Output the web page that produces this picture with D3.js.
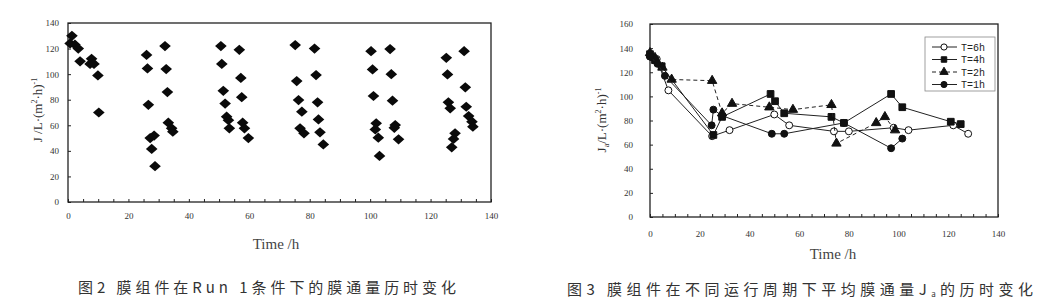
<!DOCTYPE html>
<html>
<head>
<meta charset="utf-8">
<script src="https://d3js.org/d3.v7.min.js"></script>
<style>
  body { margin: 0; background: #fff; }
  .tick text { font-family: "Liberation Serif", serif; font-size: 9px; fill: #333; }
  .tick line { stroke: #222; }
</style>
</head>
<body>
<svg id="chart" width="1053" height="302"></svg>
<script>
// ---- fig 2: flux of Run 1 over time ----
var run1Time = [1.3, 0.7, 2.3, 3.4, 4, 7.8, 7.3, 8.6, 9.9, 10.2,
  26, 26.3, 26.6, 27.2, 28.5, 27.7, 28.8,
  32.1, 32.5, 32.9, 33.2, 34.3, 34.7,
  50.6, 50.9, 51.4, 52, 52.5, 53.1, 53.4,
  56.7, 57.2, 57.5, 57.8, 58.4, 59.7,
  75.2, 75.7, 76.3, 77.4, 76.8, 78.1,
  81.6, 82.1, 82.6, 82.9, 83.4, 84.5,
  100.3, 100.8, 101.1, 102, 101.7, 102.7, 103.1,
  106.6, 107, 107.4, 108.3, 108, 109.4,
  125.2, 125.6, 125.9, 126.5, 128.1, 127.6, 127,
  131.1, 131.5, 131.8, 132.6, 133.7, 134];
var run1Flux = [130, 124, 123, 120, 110, 112, 108, 108, 99, 70,
  115, 104.5, 76, 50, 52, 41.5, 28,
  122, 104, 86, 62, 57.6, 55,
  122, 108, 87, 77, 66.7, 64, 57.6,
  119, 97, 82, 62, 57.6, 50,
  122.7, 94.6, 79.7, 70.6, 57.6, 53.7,
  120, 99.3, 78, 64.6, 54.5, 45,
  118, 103.7, 82.9, 61.5, 56.8, 50.3, 36,
  119.6, 100, 79.2, 60.2, 58, 49,
  112.8, 99.8, 78, 73.3, 53.7, 49.3, 42.8,
  118, 89.7, 74.5, 67.2, 62.8, 58.9];

// ---- fig 3: mean flux for different cycle periods ----
var t6Time = [0, 2.7, 7.4, 25, 32, 50, 56, 74, 80, 98, 104, 122, 128];
var t6Flux = [133, 131, 105, 67, 72, 85, 76, 71, 71, 74, 72, 76, 69];
var t4Time = [0, 2, 4.7, 25.5, 29, 48.5, 50.3, 54, 73, 78, 97, 101.5, 121, 125];
var t4Flux = [135, 130, 125, 68, 83, 102, 96, 86, 83, 78, 102, 91, 79, 77];
var t2Time = [0, 2, 5, 8.7, 25, 29, 33, 48, 57.5, 73, 75, 91, 94.5, 98.6];
var t2Flux = [136, 132, 124, 114, 113, 86, 94, 91, 89, 93, 61, 78, 83, 72];
var t1Time = [0, 3, 6, 24.8, 25.5, 29, 49, 54, 78, 97, 101.5];
var t1Flux = [133, 127, 117, 76, 89, 84, 69, 69, 78, 57, 65];

var xTicks = [0, 20, 40, 60, 80, 100, 120, 140];
var leftYTicks = [0, 20, 40, 60, 80, 100, 120, 140];
var rightYTicks = [0, 20, 40, 60, 80, 100, 120, 140, 160];
var legendNames = ['T=6h', 'T=4h', 'T=2h', 'T=1h'];

var svg = d3.select('#chart');

function zip(xs, ys) { return xs.map(function(d, i) { return [d, ys[i]]; }); }

function frame(x, y, yTicks, yPad, xPad) {
  var g = svg.append('g');
  g.append('g')
    .attr('transform', 'translate(0,' + y.range()[0] + ')')
    .call(d3.axisBottom(x).tickValues(d3.range(0, 141, 5)).tickSize(-3).tickPadding(xPad)
      .tickFormat(function(d) { return xTicks.indexOf(d) >= 0 ? d : ''; }))
    .call(function(a) { a.select('.domain').remove(); });
  g.append('g')
    .attr('transform', 'translate(' + x.range()[0] + ',0)')
    .call(d3.axisLeft(y).tickValues(yTicks).tickSize(-3).tickPadding(yPad))
    .call(function(a) { a.select('.domain').remove(); });
  g.append('rect')
    .attr('x', x.range()[0]).attr('y', y.range()[1])
    .attr('width', x.range()[1] - x.range()[0])
    .attr('height', y.range()[0] - y.range()[1])
    .attr('fill', 'none').attr('stroke', '#222').attr('stroke-width', 1.3);
}

// left chart
var x1 = d3.scaleLinear().domain([0, 140]).range([68, 491]);
var y1 = d3.scaleLinear().domain([0, 140]).range([202, 23]);
frame(x1, y1, leftYTicks, 9, 11);

// diamond = square turned 45 degrees, a bit flattened
var diamond = d3.symbol().type(d3.symbolSquare).size(58);
svg.append('g').selectAll('path')
  .data(zip(run1Time, run1Flux)).enter().append('path')
  .attr('d', diamond)
  .attr('transform', function(d) { return 'translate(' + x1(d[0]) + ',' + y1(d[1]) + ') scale(1.08,0.95) rotate(45)'; })
  .attr('fill', '#0a0a0a');

svg.append('text')
  .attr('transform', 'translate(42,110) rotate(-90)')
  .attr('text-anchor', 'middle')
  .style('font-family', '"Liberation Serif", serif').style('font-size', '13px').style('fill', '#333')
  .html('J /L·(m<tspan dy="-5" font-size="8">2</tspan><tspan dy="5">·h)</tspan><tspan dy="-5" font-size="8">-1</tspan>');
svg.append('text')
  .attr('x', 276).attr('y', 249)
  .attr('text-anchor', 'middle')
  .style('font-family', '"Liberation Serif", serif').style('font-size', '15px').style('fill', '#444')
  .text('Time /h');
svg.append('text')
  .attr('x', 267).attr('y', 293)
  .attr('text-anchor', 'middle')
  .attr('textLength', 378).attr('lengthAdjust', 'spacing')
  .style('font-family', '"Noto Sans CJK SC", sans-serif').style('font-size', '15px').style('fill', '#333')
  .text('图2 膜组件在Run  1条件下的膜通量历时变化');

// right chart
var x2 = d3.scaleLinear().domain([0, 140]).range([650, 998]);
var y2 = d3.scaleLinear().domain([0, 160]).range([217, 24]);
frame(x2, y2, rightYTicks, 17, 14);

var line = d3.line().x(function(d) { return x2(d[0]); }).y(function(d) { return y2(d[1]); });
var series = [
  { name: legendNames[0], pts: zip(t6Time, t6Flux), shape: d3.symbolCircle, fill: '#fff', dash: null },
  { name: legendNames[1], pts: zip(t4Time, t4Flux), shape: d3.symbolSquare, fill: '#111', dash: null },
  { name: legendNames[2], pts: zip(t2Time, t2Flux), shape: d3.symbolTriangle, fill: '#111', dash: '4,3' },
  { name: legendNames[3], pts: zip(t1Time, t1Flux), shape: d3.symbolCircle, fill: '#111', dash: null }
];

series.forEach(function(s) {
  svg.append('path')
    .attr('d', line(s.pts))
    .attr('fill', 'none').attr('stroke', '#222').attr('stroke-width', 1)
    .attr('stroke-dasharray', s.dash);
  svg.append('g').selectAll('path')
    .data(s.pts).enter().append('path')
    .attr('d', d3.symbol().type(s.shape).size(s.shape === d3.symbolSquare ? 45 : 38))
    .attr('transform', function(d) { return 'translate(' + x2(d[0]) + ',' + y2(d[1]) + ')'; })
    .attr('fill', s.fill).attr('stroke', '#111').attr('stroke-width', 1);
});

// legend
var legend = svg.append('g').attr('transform', 'translate(925,37)');
legend.append('rect')
  .attr('width', 70).attr('height', 54)
  .attr('fill', '#fff').attr('stroke', '#888').attr('stroke-width', 0.8);
series.forEach(function(s, i) {
  var yy = 10 + i * 12.5;
  legend.append('line')
    .attr('x1', 7).attr('x2', 32).attr('y1', yy).attr('y2', yy)
    .attr('stroke', '#222').attr('stroke-dasharray', s.dash);
  legend.append('path')
    .attr('d', d3.symbol().type(s.shape).size(30))
    .attr('transform', 'translate(19,' + yy + ')')
    .attr('fill', s.fill).attr('stroke', '#111');
  legend.append('text')
    .attr('x', 36).attr('y', yy + 3.5)
    .style('font-family', '"Liberation Mono", monospace').style('font-size', '10px').style('fill', '#222')
    .text(s.name);
});

svg.append('text')
  .attr('transform', 'translate(606,120) rotate(-90)')
  .attr('text-anchor', 'middle')
  .style('font-family', '"Liberation Serif", serif').style('font-size', '13px').style('fill', '#333')
  .html('J<tspan dy="3" font-size="8">a</tspan><tspan dy="-3">/L·(m</tspan><tspan dy="-5" font-size="8">2</tspan><tspan dy="5">·h)</tspan><tspan dy="-5" font-size="8">-1</tspan>');
svg.append('text')
  .attr('x', 833).attr('y', 259)
  .attr('text-anchor', 'middle')
  .style('font-family', '"Liberation Serif", serif').style('font-size', '15px').style('fill', '#444')
  .text('Time /h');
svg.append('text')
  .attr('x', 800).attr('y', 295)
  .attr('text-anchor', 'middle')
  .attr('textLength', 466).attr('lengthAdjust', 'spacing')
  .style('font-family', '"Noto Sans CJK SC", sans-serif').style('font-size', '15px').style('fill', '#333')
  .html('图3 膜组件在不同运行周期下平均膜通量J<tspan dy="2" font-size="8">a</tspan><tspan dy="-2">的历时变化</tspan>');
</script>
</body>
</html>
